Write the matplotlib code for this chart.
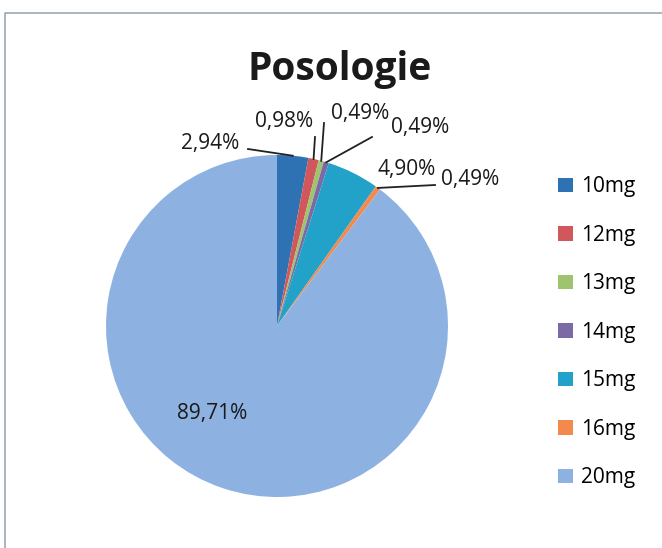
import numpy as np
import matplotlib.pyplot as plt

categories = ['10mg', '12mg', '13mg', '14mg', '15mg', '16mg', '20mg']
values = [2.94, 0.98, 0.49, 0.49, 4.90, 0.49, 89.71]
labels = ['2,94%', '0,98%', '0,49%', '0,49%', '4,90%', '0,49%', '89,71%']
colors = ['#2F72B4', '#D0585C', '#9EC46E', '#7B6AA6', '#22A2C8', '#F28A4E', '#8DB2E2']

# label placement in pixels (x, y from top) and leader line start points
label_pos = [(210, 143), (284, 121), (360, 114), (420, 128), (407, 169), (470, 179), (212, 414)]
leader_start = [(248, 149), (315, 137), (324, 123), (372, 137), None, (435, 185), None]

W, H = 662, 548
fig = plt.figure(figsize=(W / 100, H / 100), dpi=100)
ax = fig.add_axes([0, 0, 1, 1])

cx, cy, r = 277, H - 326, 171
wedges, _ = ax.pie(values, colors=colors, startangle=90, counterclock=False,
                   center=(cx, cy), radius=r, wedgeprops=dict(linewidth=0))
ax.set_xlim(0, W)
ax.set_ylim(0, H)
ax.set_aspect('equal')
ax.axis('off')

font = ['Open Sans', 'DejaVu Sans']
for w, lab, (px, py), st in zip(wedges, labels, label_pos, leader_start):
    ax.text(px, H - py, lab, ha='center', va='center', fontsize=15, family=font, color='#1a1a1a')
    if st is not None:
        ang = np.deg2rad((w.theta1 + w.theta2) / 2)
        ex, ey = cx + r * np.cos(ang), cy + r * np.sin(ang)
        ax.plot([st[0], ex], [H - st[1], ey], color='#222222', lw=1.3)

ax.text(340, H - 80, 'Posologie', ha='center', va='baseline', fontsize=28,
        fontweight='bold', family=font, color='#1a1a1a')

# chart frame (left and top edges visible in the scan)
ax.plot([5, 5, W], [0, H - 13, H - 13], color='#9aa8b4', lw=1.2)

ax.legend(wedges, categories, loc='upper left', bbox_to_anchor=(548 / W, 1 - 166 / H),
          frameon=False, prop={'family': font, 'size': 15}, borderpad=0,
          handlelength=0.68, handleheight=0.68, handletextpad=0.4, labelspacing=1.32)

fig.savefig('out.png', dpi=100)
